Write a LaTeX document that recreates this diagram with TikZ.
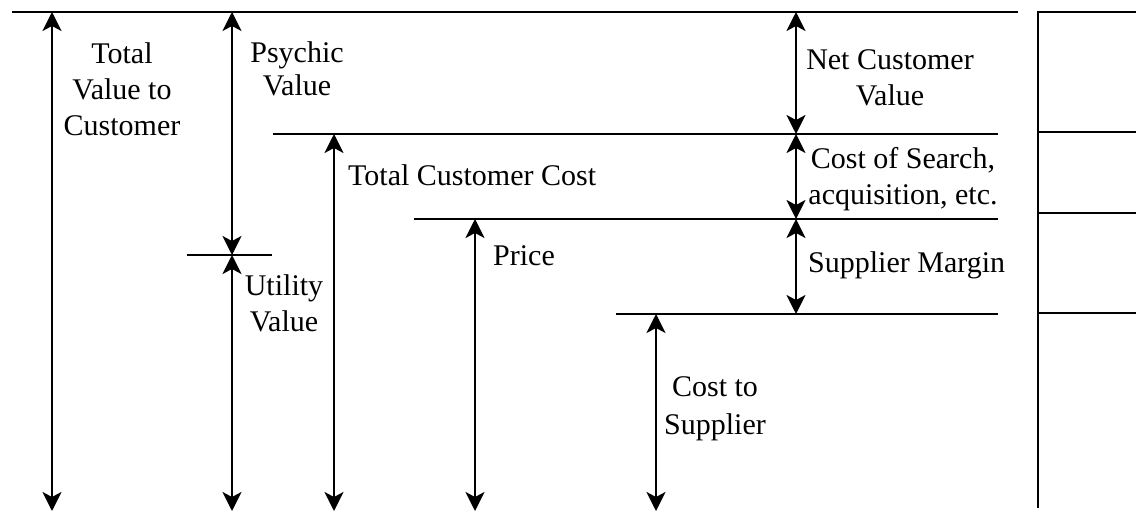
\documentclass[tikz,border=0pt]{standalone}
\usepackage{fontspec}
\setmainfont{Liberation Serif}
\usetikzlibrary{arrows.meta}
\begin{document}
\begin{tikzpicture}[x=1pt,y=-1pt,
  rule/.style={line width=2.2pt},
  dim/.style={line width=2.2pt,{Stealth[length=19pt,width=19pt,inset=5pt]}-{Stealth[length=19pt,width=19pt,inset=5pt]}},
  lbl/.style={inner sep=0pt,font=\fontsize{30}{36}\selectfont,align=center},
]
\useasboundingbox (0,0) rectangle (1136,511);

% level coordinates
\coordinate (topL) at (12,12);     \coordinate (topR) at (1018,12);
\coordinate (tccL) at (273,134);   \coordinate (tccR) at (998,134);
\coordinate (prL)  at (414,219);   \coordinate (prR)  at (998,219);
\coordinate (csL)  at (616,314);   \coordinate (csR)  at (998,314);
\coordinate (uvL)  at (187,255);   \coordinate (uvR)  at (272,255);

% horizontal levels
\draw[rule] (topL) -- (topR);
\draw[rule] (tccL) -- (tccR);
\draw[rule] (prL) -- (prR);
\draw[rule] (csL) -- (csR);
\draw[rule] (uvL) -- (uvR);

% side box
\coordinate (bxTL) at (1038,12);  \coordinate (bxBL) at (1038,508);
\coordinate (bxTR) at (1136,12);
\coordinate (bx1L) at (1038,132); \coordinate (bx1R) at (1136,132);
\coordinate (bx2L) at (1038,213); \coordinate (bx2R) at (1136,213);
\coordinate (bx3L) at (1038,313); \coordinate (bx3R) at (1136,313);
\draw[rule] (bxBL) -- (bxTL) -- (bxTR);
\draw[rule] (bx1L) -- (bx1R);
\draw[rule] (bx2L) -- (bx2R);
\draw[rule] (bx3L) -- (bx3R);

% dimension arrow end points
\coordinate (a1t) at (52,12);   \coordinate (a1b) at (52,511);
\coordinate (a2t) at (232,12);  \coordinate (a2m) at (232,255); \coordinate (a2b) at (232,511);
\coordinate (a4t) at (334,134); \coordinate (a4b) at (334,511);
\coordinate (a5t) at (475,219); \coordinate (a5b) at (475,511);
\coordinate (a6t) at (656,314); \coordinate (a6b) at (656,511);
\coordinate (a7t) at (796,12);  \coordinate (a7m) at (796,134);
\coordinate (a7n) at (796,219); \coordinate (a7b) at (796,314);

\draw[dim] (a1t) -- (a1b);
\draw[dim] (a2t) -- (a2m);
\draw[dim] (a2m) -- (a2b);
\draw[dim] (a4t) -- (a4b);
\draw[dim] (a5t) -- (a5b);
\draw[dim] (a6t) -- (a6b);
\draw[dim] (a7t) -- (a7m);
\draw[dim] (a7m) -- (a7n);
\draw[dim] (a7n) -- (a7b);

% labels
\node[lbl,anchor=north] (tv)  at (122,42)  {Total\\Value to\\Customer};
\node[lbl,anchor=north,font=\fontsize{30}{33}\selectfont] (psy) at (297,41) {Psychic\\Value};
\node[lbl,anchor=north] (ncv) at (890,49)  {Net Customer\\Value};
\node[lbl,anchor=base west] (tcc) at (348,185) {Total Customer Cost};
\node[lbl,anchor=north] (csa) at (903,147) {Cost of Search,\\acquisition, etc.};
\node[lbl,anchor=base west] (pr) at (493,265) {Price};
\node[lbl,anchor=base west] (sm) at (808,272) {Supplier Margin};
\node[lbl,anchor=north] (uv)  at (284,274) {Utility\\Value};
\node[lbl,anchor=north,font=\fontsize{30}{38}\selectfont] (cts) at (715,376) {Cost to\\Supplier};
\end{tikzpicture}
\end{document}
